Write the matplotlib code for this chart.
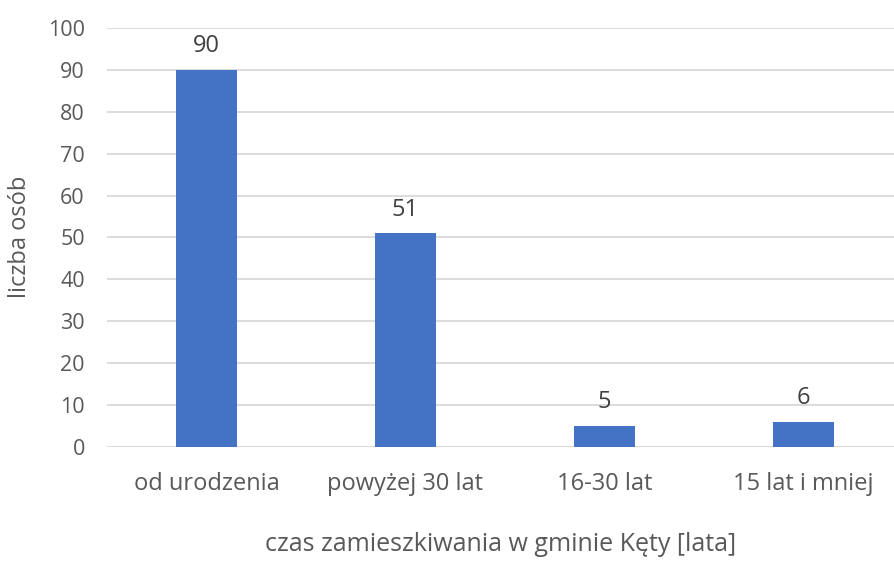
import matplotlib.pyplot as plt

categories = ["od urodzenia", "powyżej 30 lat", "16-30 lat", "15 lat i mniej"]
values = [90, 51, 5, 6]
yticks = [0, 10, 20, 30, 40, 50, 60, 70, 80, 90, 100]

plt.rcParams['font.family'] = ['Open Sans', 'DejaVu Sans']
txt = '#595959'

fig = plt.figure(figsize=(8.95, 5.66), dpi=100)
ax = fig.add_axes([107 / 895, 1 - 447 / 566, 1 - 107 / 895, (447 - 28) / 566])

x = range(len(categories))
bars = ax.bar(x, values, width=0.31, color='#4472C4', zorder=3)
for b, v in zip(bars, values):
    ax.text(b.get_x() + b.get_width() / 2, v + 2.8, str(v), ha='center', va='bottom',
            fontsize=17, color='#404040')

ax.set_xlim(-0.5, 3.46)
ax.set_ylim(0, 100)
ax.set_yticks(yticks)
ax.set_xticks(list(x))
ax.set_xticklabels(categories, fontsize=17)
ax.tick_params(axis='both', length=0, colors=txt)
ax.tick_params(axis='y', labelsize=15.5, pad=16)
ax.tick_params(axis='x', pad=18)
ax.grid(axis='y', color='#d9d9d9', linewidth=1.3, zorder=0)
for s in ax.spines.values():
    s.set_visible(False)

fig.text(20 / 895, 1 - 237 / 566, 'liczba osób', rotation=90, ha='center', va='center',
         fontsize=17, color=txt)
ax.set_xlabel('czas zamieszkiwania w gminie Kęty [lata]', fontsize=18, color=txt, labelpad=26)

fig.savefig('out.png', dpi=100)
